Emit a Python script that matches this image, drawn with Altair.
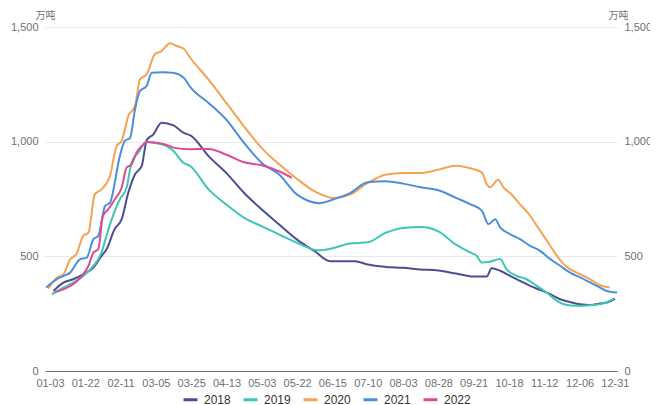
import altair as alt
import pandas as pd

x_labels = ["01-03", "01-22", "02-11", "03-05", "03-25", "04-13", "05-03", "05-22",
            "06-15", "07-10", "08-03", "08-28", "09-21", "10-18", "11-12", "12-06", "12-31"]

years = ["2018", "2019", "2020", "2021", "2022"]
colors = ["#4b4e94", "#3ec6b4", "#f5a252", "#4a8fdc", "#dd4a98"]

x_2018 = [0.1, 0.38, 0.66, 0.94, 1.23, 1.46, 1.6, 1.84, 2.03, 2.22, 2.41, 2.6, 2.74, 2.93, 3.16, 3.5, 3.78, 4.0, 4.5, 5,
          5.5, 6, 6.5, 7, 7.5, 7.93, 8.64, 9, 9.5, 10, 10.5, 11, 11.5, 12, 12.37, 12.51, 12.75, 13.03, 13.31, 13.6,
          13.88, 14.17, 14.45, 14.73, 15.02, 15.3, 15.58, 15.82, 16.0]
y_2018 = [349, 385, 400, 421, 451, 501, 530, 621, 661, 778, 858, 894, 1007, 1032, 1083, 1071, 1039, 1025, 936, 863,
          776, 704, 638, 573, 522, 479, 479, 464, 454, 450, 443, 438, 425, 412, 412, 448, 437, 415, 393, 371,
          354, 335, 313, 301, 291, 288, 294, 301, 316]

x_2019 = [0.05, 0.38, 0.66, 0.94, 1.23, 1.46, 1.6, 1.75, 1.98, 2.17, 2.31, 2.5, 2.74, 3.02, 3.31, 3.5, 3.78, 3.97, 4.5, 5,
          5.5, 6, 6.5, 7, 7.6, 8, 8.5, 9, 9.5, 10, 10.5, 11, 11.5, 11.9, 12.09, 12.23, 12.45, 12.75, 12.93, 13.21,
          13.5, 13.79, 14.07, 14.36, 14.55, 14.93, 15.3, 15.68, 15.97]
y_2019 = [334, 363, 385, 414, 458, 516, 589, 661, 749, 799, 908, 952, 999, 993, 981, 959, 908, 894, 791, 725,
          668, 631, 595, 559, 526, 535, 556, 561, 602, 624, 628, 609, 551, 517, 502, 473, 476, 488, 444, 415,
          400, 371, 342, 306, 291, 284, 287, 295, 316]

x_2020 = [-0.05, 0.19, 0.38, 0.57, 0.75, 0.94, 1.09, 1.27, 1.46, 1.7, 1.89, 2.03, 2.22, 2.41, 2.55, 2.74, 2.97, 3.16, 3.4, 3.59,
          3.78, 3.97, 4.5, 5, 5.5, 6, 6.5, 7, 7.5, 8.03, 8.5, 9, 9.5, 10, 10.5, 11, 11.5, 11.9, 12.23, 12.37,
          12.46, 12.7, 12.84, 13.03, 13.31, 13.6, 13.79, 13.98, 14.17, 14.36, 14.55, 14.73, 15.02, 15.3, 15.58, 15.85]
y_2020 = [359, 407, 421, 487, 509, 589, 603, 770, 792, 850, 981, 1003, 1112, 1156, 1272, 1294, 1381, 1395, 1429, 1417,
          1406, 1366, 1269, 1168, 1066, 972, 900, 837, 783, 754, 769, 820, 856, 863, 863, 878, 895, 884, 866, 815,
          801, 834, 801, 776, 728, 677, 633, 590, 546, 502, 466, 444, 422, 400, 374, 364]

x_2021 = [-0.11, 0.19, 0.38, 0.57, 0.85, 1.04, 1.23, 1.37, 1.56, 1.7, 1.98, 2.12, 2.27, 2.41, 2.55, 2.74, 2.88, 3.2, 3.5, 3.78,
          4, 4.5, 5, 5.5, 6, 6.5, 7, 7.65, 8, 8.5, 9, 9.5, 10, 10.5, 11, 11.5, 11.9, 12.23, 12.42, 12.61,
          12.75, 13.03, 13.31, 13.6, 13.88, 14.17, 14.45, 14.73, 15.02, 15.3, 15.58, 15.77, 16.06]
y_2021 = [364, 400, 414, 429, 487, 494, 574, 589, 719, 734, 937, 1003, 1017, 1141, 1221, 1243, 1301, 1303, 1300, 1280,
          1233, 1168, 1095, 994, 907, 856, 769, 732, 747, 776, 823, 827, 817, 801, 788, 755, 728, 699, 640, 662,
          626, 597, 575, 546, 524, 488, 459, 429, 408, 386, 364, 349, 342]

x_2022 = [0.14, 0.38, 0.66, 0.9, 1.09, 1.23, 1.37, 1.5, 1.65, 1.84, 2.03, 2.17, 2.31, 2.45, 2.6, 2.74, 2.97, 3.26, 3.5, 3.97,
          4.5, 5, 5.5, 6, 6.5, 6.85]
y_2022 = [344, 356, 378, 414, 458, 516, 531, 676, 705, 749, 799, 887, 901, 952, 981, 999, 996, 988, 974, 967,
          968, 943, 910, 897, 870, 842]

series = {"2018": (x_2018, y_2018), "2019": (x_2019, y_2019), "2020": (x_2020, y_2020),
          "2021": (x_2021, y_2021), "2022": (x_2022, y_2022)}
rows = []
for yr, (xs, ys) in series.items():
    for a, b in zip(xs, ys):
        rows.append({"pos": a, "value": b, "year": yr})
df = pd.DataFrame(rows)

FONT = "Liberation Sans, Noto Sans CJK SC, sans-serif"
label_arr = "[" + ",".join("'" + s + "'" for s in x_labels) + "]"

x_scale = alt.Scale(domain=[-0.14, 16.06], nice=False, zero=False)
x_axis = alt.Axis(values=list(range(len(x_labels))), labelExpr=label_arr + "[round(datum.value)]",
                  grid=False, ticks=False, tickSize=0, domain=True, domainColor="#6E7079",
                  labelColor="#6E7079", labelFontSize=11, labelPadding=6, title=None,
                  labelFont=FONT, labelOverlap=False, labelFlush=False)

y_scale = alt.Scale(domain=[0, 1500], nice=False)

lines = alt.Chart(df).mark_line(strokeWidth=2, interpolate="monotone").encode(
    x=alt.X("pos:Q", scale=x_scale, axis=x_axis),
    y=alt.Y("value:Q", scale=y_scale,
            axis=alt.Axis(values=[0, 500, 1000, 1500], format=",.0f", grid=True, gridColor="#E6E9F2",
                          domain=False, ticks=False, tickSize=0, labelColor="#6E7079", labelFontSize=11,
                          labelPadding=7, labelFont=FONT, title="万吨", titleAngle=0, titleX=0, titleY=-12,
                          titleAlign="center", titleBaseline="middle", titleFontSize=10,
                          titleFontWeight="normal", titleColor="#6E7079", titleFont=FONT)),
    color=alt.Color("year:N", scale=alt.Scale(domain=years, range=colors),
                    legend=alt.Legend(title=None, orient="none", direction="horizontal",
                                      legendX=137, legendY=364, symbolType="stroke", symbolSize=196,
                                      symbolStrokeWidth=3, labelFontSize=12, labelColor="#333333",
                                      labelFont=FONT, labelOffset=5, columnPadding=6)),
)

right = alt.Chart(df).mark_line(opacity=0).encode(
    x=alt.X("pos:Q", scale=x_scale, axis=x_axis),
    y=alt.Y("value:Q", scale=y_scale,
            axis=alt.Axis(orient="right", values=[0, 500, 1000, 1500], format=",.0f", grid=False,
                          domain=False, ticks=False, tickSize=0, labelColor="#6E7079", labelFontSize=11,
                          labelPadding=7, labelFont=FONT, title="万吨", titleAngle=0, titleX=1, titleY=-12,
                          titleAlign="center", titleBaseline="middle", titleFontSize=10,
                          titleFontWeight="normal", titleColor="#6E7079", titleFont=FONT)),
    detail="year:N",
)

chart = alt.layer(lines, right).resolve_scale(y="independent").properties(
    width=572, height=344,
    autosize=alt.AutoSizeParams(type="none"),
    padding={"left": 37, "top": 19, "right": 33, "bottom": 34},
).configure_view(stroke=None)

chart.save("out.html", embed_options={"renderer": "svg", "actions": False})
